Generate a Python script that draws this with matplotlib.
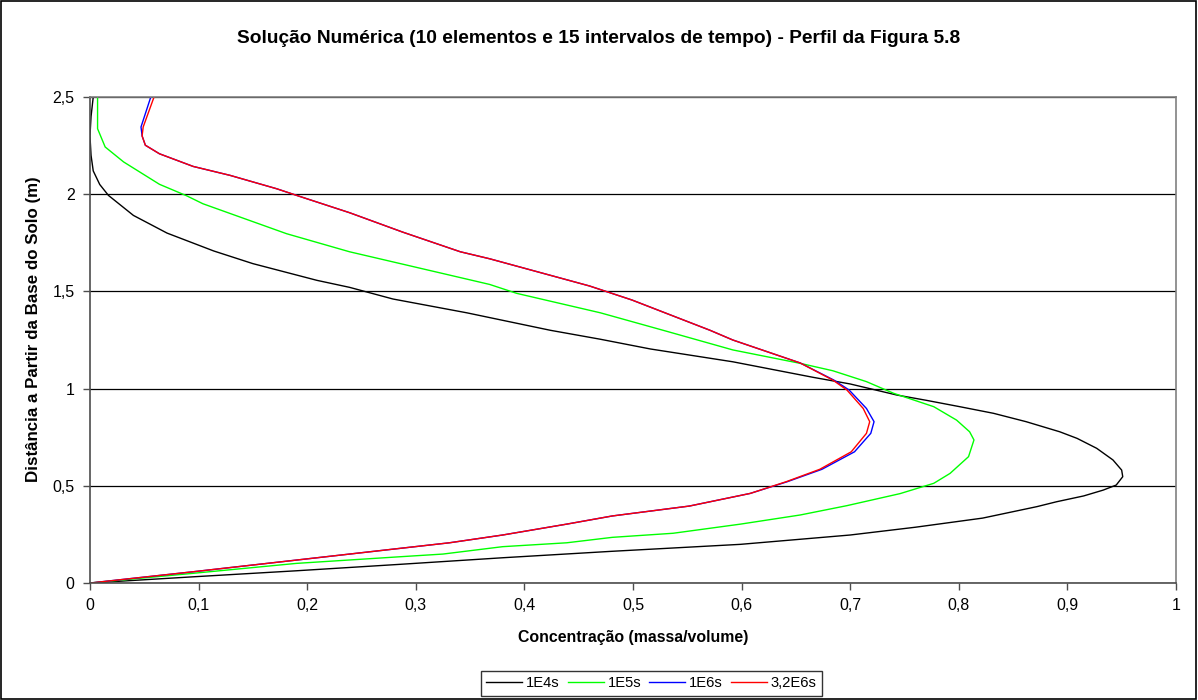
import matplotlib.pyplot as plt
from matplotlib.patches import Rectangle
from matplotlib.ticker import FuncFormatter, MultipleLocator

plt.rcParams['font.family'] = ['Liberation Sans', 'DejaVu Sans']

# perfis de concentracao (x) ao longo da altura (y) para cada tempo
x_1e4 = [0, 0.095, 0.19, 0.285, 0.38, 0.48, 0.599, 0.70, 0.76, 0.822, 0.872, 0.89, 0.915,
         0.933, 0.945, 0.951, 0.95, 0.942, 0.927, 0.909, 0.893, 0.862, 0.832, 0.801, 0.77,
         0.743, 0.70, 0.666, 0.592, 0.516, 0.47, 0.424, 0.347, 0.279, 0.239, 0.209, 0.15,
         0.114, 0.071, 0.04, 0.017, 0.009, 0.003, 0.001, 0.0, 0.001, 0.003]
y_1e4 = [0, 0.032, 0.063, 0.096, 0.13, 0.163, 0.199, 0.247, 0.287, 0.334, 0.393, 0.418, 0.448,
         0.478, 0.504, 0.547, 0.581, 0.633, 0.693, 0.744, 0.778, 0.83, 0.873, 0.907, 0.94,
         0.967, 1.024, 1.058, 1.138, 1.204, 1.254, 1.30, 1.39, 1.461, 1.521, 1.557, 1.643,
         1.708, 1.80, 1.891, 1.994, 2.05, 2.12, 2.2, 2.3, 2.4, 2.5]

x_1e5 = [0, 0.095, 0.19, 0.285, 0.325, 0.38, 0.439, 0.481, 0.537, 0.599, 0.654, 0.697, 0.746,
         0.777, 0.792, 0.809, 0.814, 0.81, 0.798, 0.777, 0.74, 0.715, 0.684, 0.654, 0.592,
         0.531, 0.47, 0.393, 0.368, 0.239, 0.181, 0.104, 0.089, 0.064, 0.031, 0.014, 0.007, 0.007]
y_1e5 = [0, 0.05, 0.101, 0.135, 0.149, 0.187, 0.207, 0.235, 0.256, 0.303, 0.35, 0.398, 0.46,
         0.513, 0.564, 0.65, 0.736, 0.778, 0.838, 0.907, 0.976, 1.036, 1.092, 1.13, 1.199,
         1.295, 1.39, 1.49, 1.536, 1.704, 1.797, 1.951, 1.992, 2.051, 2.166, 2.243, 2.337, 2.5]

x_1e6 = [0, 0.095, 0.19, 0.285, 0.331, 0.38, 0.439, 0.481, 0.552, 0.608, 0.642, 0.674, 0.704,
         0.719, 0.722, 0.715, 0.699, 0.685, 0.654, 0.592, 0.571, 0.499, 0.46, 0.368, 0.341,
         0.288, 0.239, 0.193, 0.172, 0.129, 0.095, 0.064, 0.051, 0.048, 0.047, 0.056]
y_1e6 = [0, 0.058, 0.118, 0.178, 0.207, 0.247, 0.303, 0.345, 0.396, 0.461, 0.521, 0.585, 0.675,
         0.77, 0.83, 0.898, 0.993, 1.044, 1.132, 1.25, 1.30, 1.456, 1.528, 1.668, 1.704,
         1.805, 1.905, 1.989, 2.028, 2.097, 2.143, 2.208, 2.252, 2.30, 2.346, 2.5]

x_32e6 = [0, 0.095, 0.19, 0.285, 0.331, 0.38, 0.439, 0.481, 0.552, 0.608, 0.641, 0.672, 0.701,
          0.715, 0.718, 0.712, 0.697, 0.684, 0.654, 0.592, 0.571, 0.499, 0.46, 0.368, 0.341,
          0.288, 0.239, 0.193, 0.172, 0.129, 0.095, 0.064, 0.051, 0.048, 0.049, 0.059]
y_32e6 = y_1e6

series = [
    (x_1e4, y_1e4, '#000000', '1E4s'),
    (x_1e5, y_1e5, '#00FF00', '1E5s'),
    (x_1e6, y_1e6, '#0000FF', '1E6s'),
    (x_32e6, y_32e6, '#FF0000', '3,2E6s'),
]

fig = plt.figure(figsize=(11.98, 7), dpi=100)
ax = fig.add_axes([0.0751, 0.1671, 0.9065, 0.6943])

for xs, ys, cor, nome in series:
    ax.plot(xs, ys, color=cor, lw=1.0, label=nome)

ax.set_xlim(0, 1)
ax.set_ylim(0, 2.5)
ax.xaxis.set_major_locator(MultipleLocator(0.1))
ax.yaxis.set_major_locator(MultipleLocator(0.5))

def virgula(v, pos):
    s = ('%.1f' % v).rstrip('0').rstrip('.')
    return s.replace('.', ',')

ax.xaxis.set_major_formatter(FuncFormatter(virgula))
ax.yaxis.set_major_formatter(FuncFormatter(virgula))
ax.tick_params(direction='out', length=5, width=1, color='0.3', labelsize=11.5, pad=6)

ax.yaxis.grid(True, color='black', lw=0.9)
ax.set_axisbelow(True)
for lado in ['left', 'bottom']:
    ax.spines[lado].set_color('0.3')
    ax.spines[lado].set_linewidth(1.2)
for lado in ['top', 'right']:
    ax.spines[lado].set_color('0.5')
    ax.spines[lado].set_linewidth(1.2)

ax.set_xlabel('Concentração (massa/volume)', fontsize=11.4, fontweight='bold', labelpad=12)
ax.set_ylabel('Distância a Partir da Base do Solo (m)', fontsize=12.2, fontweight='bold')
ax.yaxis.set_label_coords(-0.045, 0.523)
fig.text(0.5, 0.945, 'Solução Numérica (10 elementos e 15 intervalos de tempo) - Perfil da Figura 5.8',
         ha='center', va='center', fontsize=13.8, fontweight='bold')

leg = fig.legend(loc='center', bbox_to_anchor=(0.5438, 0.0236), ncol=4, fontsize=10.6,
                 frameon=True, fancybox=False, edgecolor='black', handlelength=2.45,
                 handletextpad=0.25, columnspacing=0.55, borderpad=0.35, borderaxespad=0)
leg.get_frame().set_linewidth(1.0)

fig.patches.append(Rectangle((0.001, 0.002), 0.997, 0.996, transform=fig.transFigure,
                             fill=False, edgecolor='black', lw=1.2))

fig.savefig('out.png', dpi=100)
